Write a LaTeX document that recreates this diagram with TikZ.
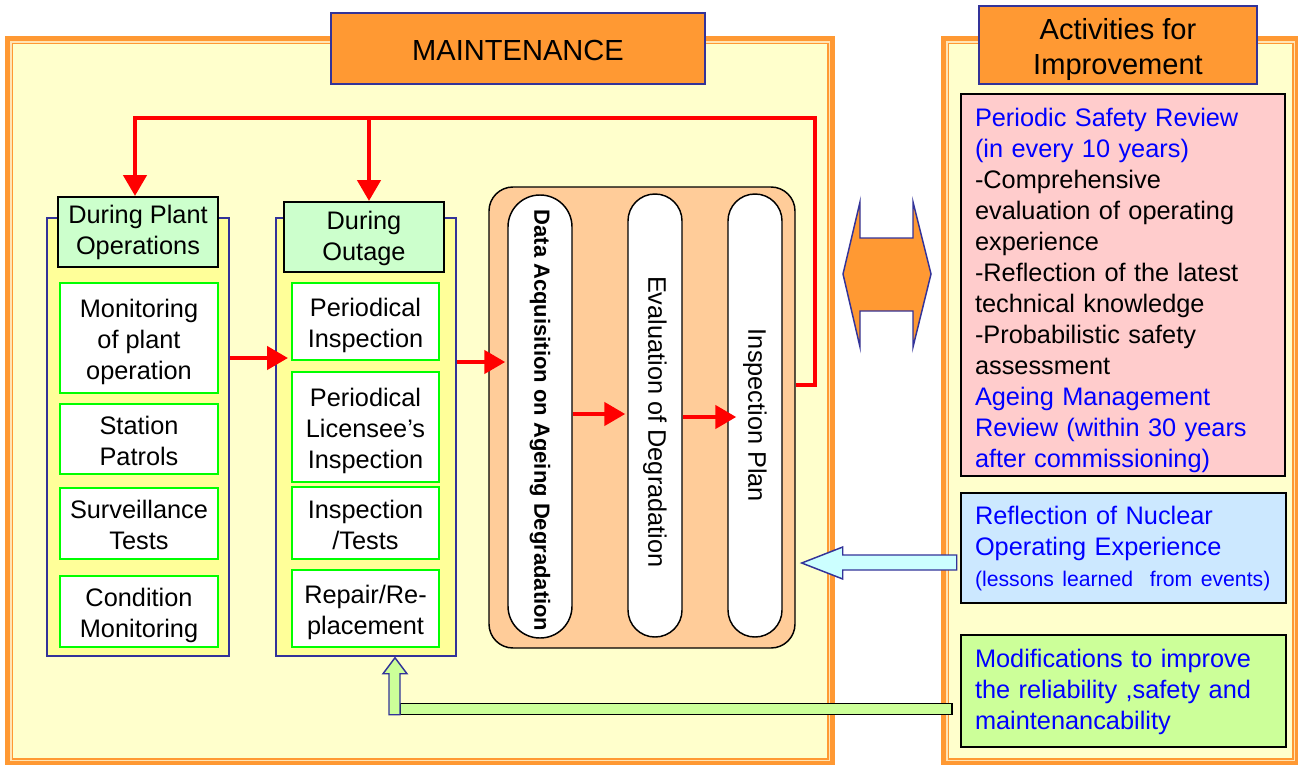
\documentclass[tikz,border=0pt]{standalone}
\usepackage{fontspec}
\usepackage{graphicx}
\setmainfont{Liberation Sans}
\usetikzlibrary{arrows.meta,calc}
\definecolor{orng}{HTML}{FF9933}
\definecolor{orngLight}{HTML}{FFE4B5}
\definecolor{panelY}{HTML}{FFFFCC}
\definecolor{colY}{HTML}{FFFF99}
\definecolor{hdrG}{HTML}{CCFFCC}
\definecolor{brdG}{HTML}{00FF00}
\definecolor{brdB}{HTML}{333399}
\definecolor{peach}{HTML}{FFCC99}
\definecolor{pinkbox}{HTML}{FFCCCC}
\definecolor{bluebox}{HTML}{CCE8FF}
\definecolor{greenbox}{HTML}{CCFF99}
\definecolor{cyanarr}{HTML}{CCFFFF}
\definecolor{txtB}{HTML}{0000FF}
\definecolor{redA}{HTML}{FF0000}
\newcommand\fmain{\fontsize{19}{23.2}\selectfont}
\newcommand\ftitle{\fontsize{21.8}{26.3}\selectfont}
\newcommand\fsmallx{\fontsize{15.9}{20}\selectfont}
\newcommand\fboldx{\fontsize{16.5}{20}\selectfont\bfseries}
\newcommand\stT[1]{\rule{0pt}{#1}}
\newcommand\stB[1]{\rule[-#1]{0pt}{0pt}}
\newcommand\itop{\stT{20pt}}
\newcommand\ibot{\stB{4pt}}
\begin{document}
\begin{tikzpicture}[x=0.75pt,y=-0.75pt,
  colframe/.style={draw=brdB,line width=1.1pt,fill=colY,inner sep=0pt},
  hdrbox/.style={draw=black,line width=1.5pt,fill=hdrG,align=center,font=\fmain,inner sep=0pt,minimum width=120pt,minimum height=52.5pt},
  itembox/.style={draw=brdG,line width=1.5pt,fill=white,align=center,font=\fmain,inner sep=0pt},
  pillbox/.style={draw=black,line width=1.1pt,fill=white,inner sep=0pt,minimum height=332.25pt},
  titlebox/.style={draw=brdB,line width=1.5pt,fill=orng,align=center,font=\ftitle,inner sep=0pt},
  actbox/.style={draw=black,line width=1.5pt,align=left,font=\fmain,inner xsep=10.5pt,inner ysep=0pt,text=txtB},
  redarrow/.style={draw=redA,line width=3.4pt,-{Triangle[length=15.75pt,width=17.25pt]}},
  blockarrow/.style={draw=brdB,line width=1.1pt,line join=miter},
]
\useasboundingbox (0,0) rectangle (1298,764);
% panels
\fill[orng] (5,36) rectangle (835,766);
\fill[orngLight] (10,41) rectangle (830,761);
\fill[orng] (11.5,42.5) rectangle (828.5,759.5);
\fill[panelY] (13,44) rectangle (827,758);
\fill[orng] (941,36) rectangle (1300,766);
\fill[orngLight] (946,41) rectangle (1295,761);
\fill[orng] (947.5,42.5) rectangle (1293.5,759.5);
\fill[panelY] (949,44) rectangle (1292,758);
% titles
\node[titlebox,minimum width=280.5pt,minimum height=53.25pt] (mt) at (518,48.5) {\stT{21.8pt}MAINTENANCE\stB{4.5pt}};
\node[titlebox,minimum width=208.5pt,minimum height=58.5pt] (act) at (1118,45) {\stT{23pt}Activities for\\Improvement\stB{4.5pt}};
% left column
\node[colframe,minimum width=136.5pt,minimum height=328.5pt] (colL) at (138,437) {};
\node[hdrbox] (hdrL) at (138,232) {\stT{15pt}During Plant\\Operations};
\node[itembox,minimum width=118.5pt,minimum height=82.5pt] (mon) at (139,338) {\itop Monitoring\\of plant\\operation\ibot};
\node[itembox,minimum width=118.5pt,minimum height=52.5pt] (sta) at (139,439) {\itop Station\\Patrols\ibot};
\node[itembox,minimum width=118.5pt,minimum height=53.25pt] (sur) at (139,523.5) {\itop Surveillance\\Tests\ibot};
\node[itembox,minimum width=118.5pt,minimum height=53.25pt] (con) at (139,611.5) {\itop Condition\\Monitoring\ibot};
% middle column
\node[colframe,minimum width=135pt,minimum height=328.5pt] (colM) at (366,437) {};
\node[hdrbox] (hdrM) at (364,237) {\stT{16pt}During\\Outage\stB{2pt}};
\node[itembox,minimum width=110.25pt,minimum height=57.75pt] (pi) at (365.5,321.5) {\itop Periodical\\Inspection\ibot};
\node[itembox,minimum width=110.25pt,minimum height=82.5pt] (pli) at (365.5,427) {\itop Periodical\\Licensee’s\\Inspection\ibot};
\node[itembox,minimum width=110.25pt,minimum height=54pt] (it) at (365.5,523) {\itop Inspection\\/Tests\ibot};
\node[itembox,minimum width=110.25pt,minimum height=57.75pt] (rr) at (365.5,608.5) {\itop Repair/Re-\\placement\ibot};
% process
\node[draw=black,line width=1.1pt,fill=peach,rounded corners=18pt,minimum width=229.5pt,minimum height=345.75pt,inner sep=0pt] (proc) at (642,417.5) {};
\node[pillbox,minimum width=48pt,rounded corners=23.9pt] (p1) at (540,416.5) {\rotatebox{-90}{\fboldx\hspace*{6pt}Data Acquisition on Ageing Degradation}};
\node[pillbox,minimum width=40.5pt,rounded corners=20.2pt] (p2) at (655,415.5) {\rotatebox{-90}{\fmain\hspace*{9.5pt}Evaluation of Degradation}};
\node[pillbox,minimum width=40.5pt,rounded corners=20.2pt] (p3) at (755,415.5) {\rotatebox{-90}{\fmain Inspection Plan}};
% right boxes
\node[actbox,fill=pinkbox,minimum width=243pt,minimum height=286.5pt,text width=222pt] (psr) at (1123,285) {\stT{22pt}Periodic Safety Review\\(in every 10 years)\\\color{black}-Comprehensive\\evaluation of operating\\experience\\-Reflection of the latest\\technical knowledge\\-Probabilistic safety\\assessment\\\color{txtB}Ageing Management\\Review (within 30 years\\after commissioning)\stB{3pt}};
\node[actbox,fill=bluebox,minimum width=243.75pt,minimum height=82.5pt,text width=222.75pt] (nuc) at (1123.5,548) {\stT{19pt}Reflection of Nuclear\\Operating Experience\\\mbox{\fsmallx (lessons learned~ from events)}\stB{8.3pt}};
\node[actbox,fill=greenbox,minimum width=243.75pt,minimum height=84pt,text width=222.75pt] (mod) at (1123.5,691) {\stT{19pt}Modifications to improve\\the reliability ,safety and\\maintenancability\stB{7.5pt}};
% red arrows
\coordinate (jL) at (135,118);
\coordinate (jM) at (369,118);
\coordinate (jR) at (815,118);
\coordinate (yLoop) at (0,385);
\coordinate (y1) at (0,358);
\coordinate (y2) at (0,362);
\coordinate (y3) at (0,414);
\coordinate (y4) at (0,417);
\draw[redarrow] (proc.east |- yLoop) -| (jR) -- (jL) -- (hdrL.north -| jL);
\draw[redarrow] (jM) -- (hdrM.north -| jM);
\draw[redarrow] (colL.east |- y1) -- ($(pi.west |- y1)+(-3,0)$);
\draw[redarrow] (colM.east |- y2) -- ($(p1.west |- y2)+(-2,0)$);
\draw[redarrow] (p1.east |- y3) -- ($(p2.west |- y3)+(-2,0)$);
\draw[redarrow] (p2.east |- y4) -- ($(p3.west |- y4)+(9,0)$);
% double arrow
\draw[blockarrow,fill=orng] (843,274) -- (860,202) -- (860,238) -- (913,238) -- (913,202) -- (931,274) -- (913,347) -- (913,311) -- (860,311) -- (860,347) -- cycle;
% cyan arrow from nuc to proc
\coordinate (ycy) at (0,563);
\path (proc.east |- ycy) ++(6,0) coordinate (cT);
\draw[blockarrow,fill=cyanarr] (cT) -- ++(41,-16) -- ++(0,8) -- ++(114,0) -- ++(0,15) -- ++(-114,0) -- ++(0,9) -- cycle;
% green arrow from mod to outage column
\coordinate (gT) at ($(colM.south)+(29,1)$);
\draw[draw=black,line width=1.1pt,fill=greenbox] ($(gT)+(5,46)$) rectangle ++(552,11);
\draw[blockarrow,fill=greenbox] (gT) -- ++(12,16) -- ++(-7,0) -- ++(0,41) -- ++(-11,0) -- ++(0,-41) -- ++(-6,0) -- cycle;
\end{tikzpicture}
\end{document}
